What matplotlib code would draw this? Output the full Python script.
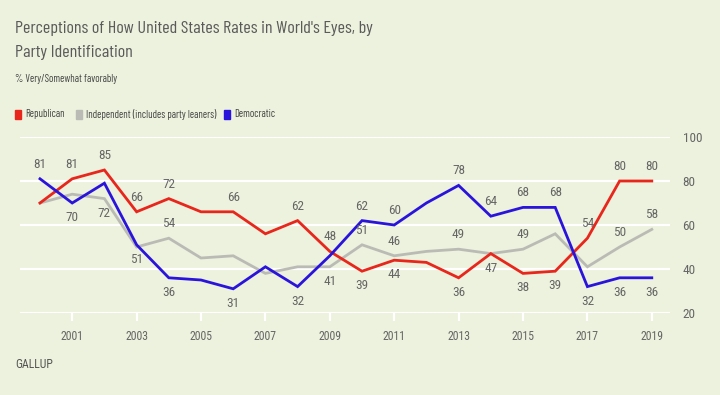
import numpy as np
import matplotlib
matplotlib.use('Agg')
import matplotlib.pyplot as plt

plt.rcParams['font.family'] = ['Roboto Condensed', 'DejaVu Sans']
HEAD = ['Barlow Condensed', 'Roboto Condensed', 'DejaVu Sans']

years = list(range(2000, 2020))
republican = [70, 81, 85, 66, 72, 66, 66, 56, 62, 48, 39, 44, 43, 36, 47, 38, 39, 54, 80, 80]
independent = [70, 74, 72, 50, 54, 45, 46, 38, 41, 41, 51, 46, 48, 49, 47, 49, 56, 41, 50, 58]
democratic = [81, 70, 79, 51, 36, 35, 31, 41, 32, 46, 62, 60, 70, 78, 64, 68, 68, 32, 36, 36]

# which points carry a value label (1 = above, -1 = below, 0 = none)
rep_lab = [0, 1, 1, 1, 1, 0, 1, 0, 1, 1, -1, -1, 0, -1, -1, -1, -1, 1, 1, 1]
ind_lab = [0, 0, -1, 0, 1, 0, 0, 0, 0, -1, 1, 1, 0, 1, 0, 1, 0, 0, 1, 1]
dem_lab = [1, -1, 0, -1, -1, 0, -1, 0, -1, 0, 1, 1, 0, 1, 1, 1, 1, -1, -1, -1]

BG = '#ECF2DD'
RED = '#E8261C'
GRAY = '#BBBBB5'
BLUE = '#2A14DB'
TXT = '#666666'

fig = plt.figure(figsize=(7.2, 3.95), dpi=100, facecolor=BG)
ax = fig.add_axes([20/720, 82/395, 650/720, 176/395], facecolor=BG)

ax.set_xlim(2000 - 20/32.2, 2000 + 630/32.2)
ax.set_ylim(20, 100)
ax.set_yticks([20, 40, 60, 80, 100])
ax.grid(axis='y', color='white', linewidth=1.6)
ax.set_axisbelow(True)
for s in ax.spines.values():
    s.set_visible(False)
ax.yaxis.tick_right()
ax.tick_params(axis='y', length=0, pad=9, labelsize=9.5, labelcolor=TXT)
ax.set_xticks(years[1::2])
ax.tick_params(axis='x', length=6, width=1.6, color='white', pad=6,
               labelsize=8.5, labelcolor=TXT)

for vals, col, labs in [(independent, GRAY, ind_lab),
                        (republican, RED, rep_lab),
                        (democratic, BLUE, dem_lab)]:
    ax.plot(years, vals, color=col, linewidth=2, solid_joinstyle='miter')
    for x, v, side in zip(years, vals, labs):
        if side:
            ax.annotate(str(v), (x, v), xytext=(0, 10.5 * side), textcoords='offset points',
                        ha='center', va='center', fontsize=9.5, color=TXT)

fig.text(15/720, 1 - 28/395, "Perceptions of How United States Rates in World's Eyes, by",
         fontsize=13, color='#5a5a5a', va='center', family=HEAD)
fig.text(15/720, 1 - 52/395, 'Party Identification', fontsize=13, color='#5a5a5a',
         va='center', family=HEAD)
fig.text(15/720, 1 - 79/395, '% Very/Somewhat favorably', fontsize=7.6, color='#444444',
         va='center', family=HEAD)

leg = [('Republican', RED), ('Independent (includes party leaners)', GRAY), ('Democratic', BLUE)]
lx = [15, 76, 224]
for (name, col), x0 in zip(leg, lx):
    fig.patches.append(plt.Rectangle((x0/720, 1 - 119/395), 6/720, 9/395,
                                     transform=fig.transFigure, color=col))
    fig.text((x0 + 10)/720, 1 - 114/395, name, fontsize=7.6, color='#444444', va='center',
             family=HEAD)

fig.text(15/720, 1 - 365/395, 'GALLUP', fontsize=8.5, color='#555555', va='center')

fig.savefig('out.png', dpi=100, facecolor=BG)
